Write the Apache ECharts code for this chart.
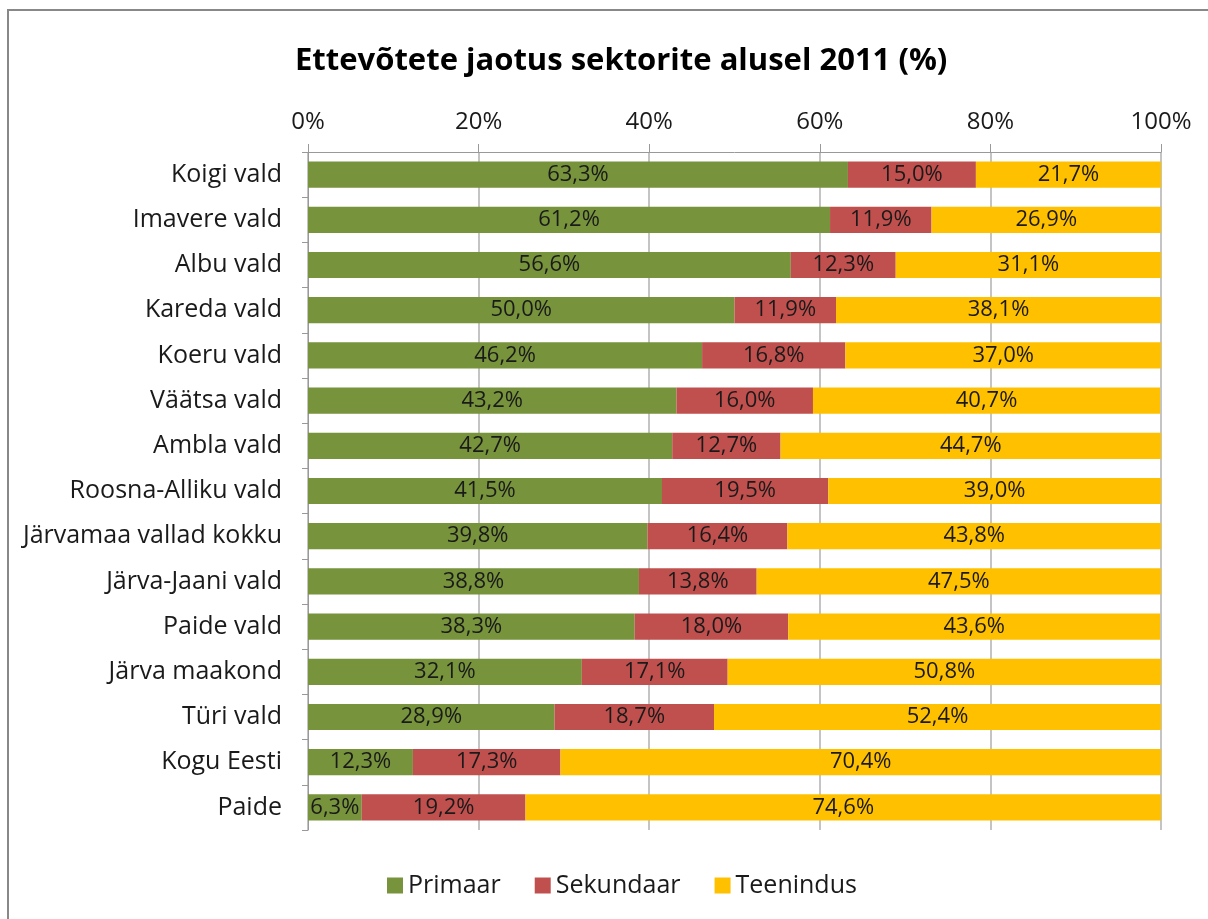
<!DOCTYPE html>
<html><head><meta charset="utf-8">
<script src="https://cdn.jsdelivr.net/npm/echarts@6/dist/echarts.min.js"></script>
<style>html,body{margin:0;padding:0;background:#fff}#c{width:1208px;height:919px}</style>
</head><body><div id="c"></div>
<script>
const categories = ["Koigi vald","Imavere vald","Albu vald","Kareda vald","Koeru vald","Väätsa vald","Ambla vald","Roosna-Alliku vald","Järvamaa vallad kokku","Järva-Jaani vald","Paide vald","Järva maakond","Türi vald","Kogu Eesti","Paide"];
const primaar   = [63.3,61.2,56.6,50.0,46.2,43.2,42.7,41.5,39.8,38.8,38.3,32.1,28.9,12.3,6.3];
const sekundaar = [15.0,11.9,12.3,11.9,16.8,16.0,12.7,19.5,16.4,13.8,18.0,17.1,18.7,17.3,19.2];
const teenindus = [21.7,26.9,31.1,38.1,37.0,40.7,44.7,39.0,43.8,47.5,43.6,50.8,52.4,70.4,74.6];
const seriesNames = ["Primaar","Sekundaar","Teenindus"];
const colors = ["#77933C","#C0504D","#FFC000"];
const FONT = "Open Sans";
const chart = echarts.init(document.getElementById('c'));
const fmt = p => p.value.toFixed(1).replace('.', ',') + '%';
const mk = (name, data, color) => ({
  name, type:'bar', stack:'s', data, barCategoryGap:'42%',
  itemStyle:{color},
  label:{show:true, position:'inside', formatter:fmt, color:'#1a1a1a', fontFamily:FONT, fontSize:22}
});
chart.setOption({
  animation:false,
  textStyle:{fontFamily:FONT},
  title:{text:'Ettevõtete jaotus sektorite alusel 2011 (%)', left:290, top:41,
    textStyle:{fontFamily:FONT, fontWeight:'bold', fontSize:31, color:'#000'}},
  legend:{bottom:16, left:382, itemWidth:16, itemHeight:16, itemGap:34, icon:'rect',
    textStyle:{fontFamily:FONT, fontSize:25, color:'#1a1a1a'}},
  grid:{left:308, right:47, top:152, bottom:89, containLabel:false},
  xAxis:{type:'value', position:'top', min:0, max:100, interval:20,
    axisLabel:{formatter:'{value}%', fontSize:24, color:'#1a1a1a', margin:18},
    axisLine:{show:true, lineStyle:{color:'#999'}},
    axisTick:{show:true, length:8, lineStyle:{color:'#999'}},
    splitLine:{show:true, lineStyle:{color:'#b0b0b0', width:1.5}}},
  yAxis:{type:'category', data:categories, inverse:true,
    axisLabel:{fontSize:25, color:'#1a1a1a', margin:26},
    axisLine:{show:true, lineStyle:{color:'#999'}},
    axisTick:{show:true, length:6, lineStyle:{color:'#999'}}},
  graphic:[{type:'rect', shape:{x:8, y:10, width:1300, height:1000}, style:{fill:'none', stroke:'#888', lineWidth:2}, silent:true, z:-1}],
  series:[mk(seriesNames[0], primaar, colors[0]), mk(seriesNames[1], sekundaar, colors[1]), mk(seriesNames[2], teenindus, colors[2])]
});
</script></body></html>
